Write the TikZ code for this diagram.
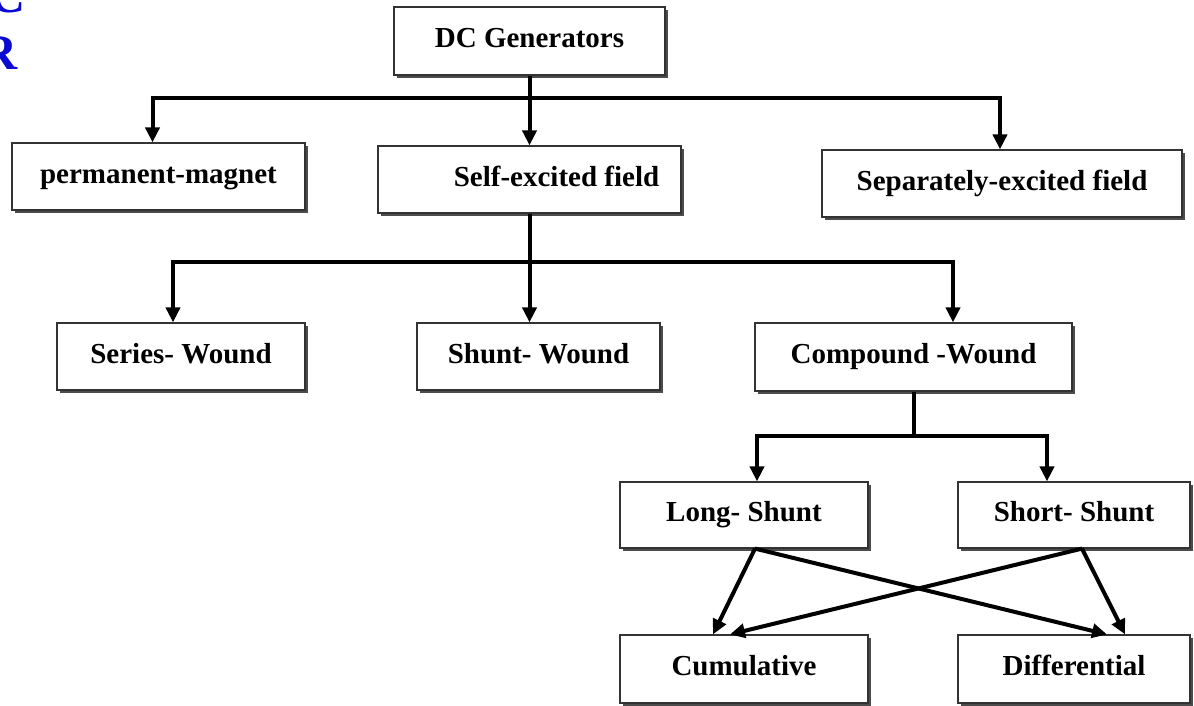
\documentclass[tikz,border=0pt]{standalone}
\usepackage{fontspec}
\setmainfont{Liberation Serif}
\usepackage{tikz}
\usetikzlibrary{arrows.meta,shadows}
\definecolor{titleblue}{RGB}{10,10,210}

\begin{document}
\begin{tikzpicture}[x=1pt,y=-1pt,
    box/.style={draw=black!80,line width=1.2pt,fill=white,
      drop shadow={shadow xshift=3pt,shadow yshift=-3pt,fill=black!70,opacity=1},
      font=\fontsize{29}{34}\selectfont\bfseries,
      text height=20pt,text depth=7pt,minimum height=67pt},
    link/.style={line width=4pt},
    >={Triangle[length=15pt,width=14pt]}]
    \fill[white] (0,0) rectangle (1194,705);
    \useasboundingbox (0,0) rectangle (1194,705);

    \node[anchor=base east,inner sep=0pt,text=titleblue,
      font=\fontsize{50}{50}\selectfont\bfseries] (ttl-c) at (26,12) {C};
    \node[anchor=base east,inner sep=0pt,text=titleblue,
      font=\fontsize{50}{50}\selectfont\bfseries] (ttl-r) at (18,69) {R};

    \node[box,minimum width=271pt,minimum height=68pt] (dc) at (529.5,41) {DC Generators};
    \node[box,minimum width=293pt] (pm) at (158.5,176.5) {permanent-magnet};
    \node[box,minimum width=303pt] (sx) at (529.5,179.5) {\hspace*{54pt}Self-excited field};
    \node[box,minimum width=360pt] (sep) at (1002,183.5) {Separately-excited field};
    \node[box,minimum width=248pt] (ser) at (181,356.5) {Series- Wound};
    \node[box,minimum width=243pt] (shu) at (538.5,356.5) {Shunt- Wound};
    \node[box,minimum width=317pt,minimum height=68pt] (cmp) at (913.5,357) {Compound -Wound};
    \node[box,minimum width=248pt,minimum height=66pt] (lng) at (744,515) {Long- Shunt};
    \node[box,minimum width=232pt,minimum height=66pt] (sht) at (1074,515) {Short- Shunt};
    \node[box,minimum width=248pt,minimum height=68pt] (cum) at (744,669) {Cumulative};
    \node[box,minimum width=232pt,minimum height=68pt] (dif) at (1074,669) {Differential};

    \coordinate (b1) at (0,98);
    \coordinate (pm-in) at ([xshift=-6pt]pm.north);
    \coordinate (sep-in) at ([xshift=-2pt]sep.north);
    \draw[link,<->] (pm-in) -- (pm-in |- b1) -- (sep-in |- b1) -- (sep-in);
    \draw[link,->] (dc.south) -- (sx.north);

    \coordinate (b2) at (0,262);
    \coordinate (ser-in) at ([xshift=-8pt]ser.north);
    \coordinate (cmp-in) at ([xshift=39.5pt]cmp.north);
    \draw[link,<->] (ser-in) -- (ser-in |- b2) -- (cmp-in |- b2) -- (cmp-in);
    \draw[link,->] (sx.south) -- (sx.south |- shu.north);

    \coordinate (b3) at (0,436);
    \coordinate (lng-in) at ([xshift=13pt]lng.north);
    \coordinate (sht-in) at ([xshift=-27pt]sht.north);
    \draw[link,<->] (lng-in) -- (lng-in |- b3) -- (sht-in |- b3) -- (sht-in);
    \draw[link] (cmp.south) -- (cmp.south |- b3);

    \coordinate (lng-out) at ([xshift=11pt]lng.south);
    \coordinate (sht-out) at ([xshift=8pt]sht.south);
    \draw[link,->] (lng-out) -- ([xshift=-31pt]cum.north);
    \draw[link,->] (lng-out) -- ([xshift=33pt]dif.north);
    \draw[link,->] (sht-out) -- ([xshift=-14pt]cum.north);
    \draw[link,->] (sht-out) -- ([xshift=51pt]dif.north);
\end{tikzpicture}
\end{document}
